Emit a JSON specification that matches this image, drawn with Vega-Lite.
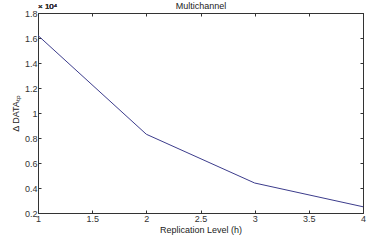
{
  "$schema": "https://vega.github.io/schema/vega-lite/v6.json",
  "autosize": "none",
  "width": 325,
  "height": 200,
  "padding": {"left": 38, "top": 13, "right": 12, "bottom": 27},
  "background": "white",
  "data": {"values": [
    {"h": 1, "v": 1.62},
    {"h": 2, "v": 0.83},
    {"h": 3, "v": 0.44},
    {"h": 4, "v": 0.25}
  ]},
  "config": {
    "view": {"stroke": "#333", "strokeWidth": 1},
    "axis": {
      "labelFont": "Liberation Sans", "labelFontSize": 9, "labelColor": "#333",
      "titleFont": "Liberation Sans", "titleFontSize": 9, "titleFontWeight": "normal", "titleColor": "#222",
      "grid": false, "domainColor": "#333", "tickColor": "#333", "tickSize": -3, "labelPadding": 4, "format": "~g"
    }
  },
  "layer": [
    {
      "mark": {"type": "line", "color": "#3c3c8c", "strokeWidth": 1},
      "encoding": {
        "x": {"field": "h", "type": "quantitative", "scale": {"domain": [1, 4], "nice": false}, "axis": {"values": [1, 1.5, 2, 2.5, 3, 3.5, 4], "title": "Replication Level (h)", "titlePadding": 2, "labelFlush": false}},
        "y": {"field": "v", "type": "quantitative", "scale": {"domain": [0.2, 1.8], "nice": false, "zero": false}, "axis": {"values": [0.2, 0.4, 0.6, 0.8, 1, 1.2, 1.4, 1.6, 1.8], "title": "Δ DATAₜₚ", "titlePadding": 4, "labelFlush": false}}
      }
    },
    {
      "mark": {"type": "line", "opacity": 0},
      "encoding": {
        "x": {"field": "h", "type": "quantitative", "scale": {"domain": [1, 4], "nice": false}, "axis": {"orient": "top", "values": [1, 1.5, 2, 2.5, 3, 3.5, 4], "labels": false, "title": "Multichannel", "titlePadding": 2}},
        "y": {"field": "v", "type": "quantitative", "scale": {"domain": [0.2, 1.8], "nice": false, "zero": false}, "axis": {"orient": "right", "values": [0.2, 0.4, 0.6, 0.8, 1, 1.2, 1.4, 1.6, 1.8], "labels": false, "title": null}}
      }
    },
    {
      "mark": {"type": "text", "text": "× 10⁴", "align": "left", "baseline": "bottom", "dy": -2, "fontSize": 8, "font": "Liberation Sans", "color": "#333"},
      "encoding": {
        "x": {"datum": 1, "type": "quantitative", "axis": null},
        "y": {"datum": 1.8, "type": "quantitative", "axis": null}
      }
    }
  ],
  "resolve": {"axis": {"x": "independent", "y": "independent"}}
}
